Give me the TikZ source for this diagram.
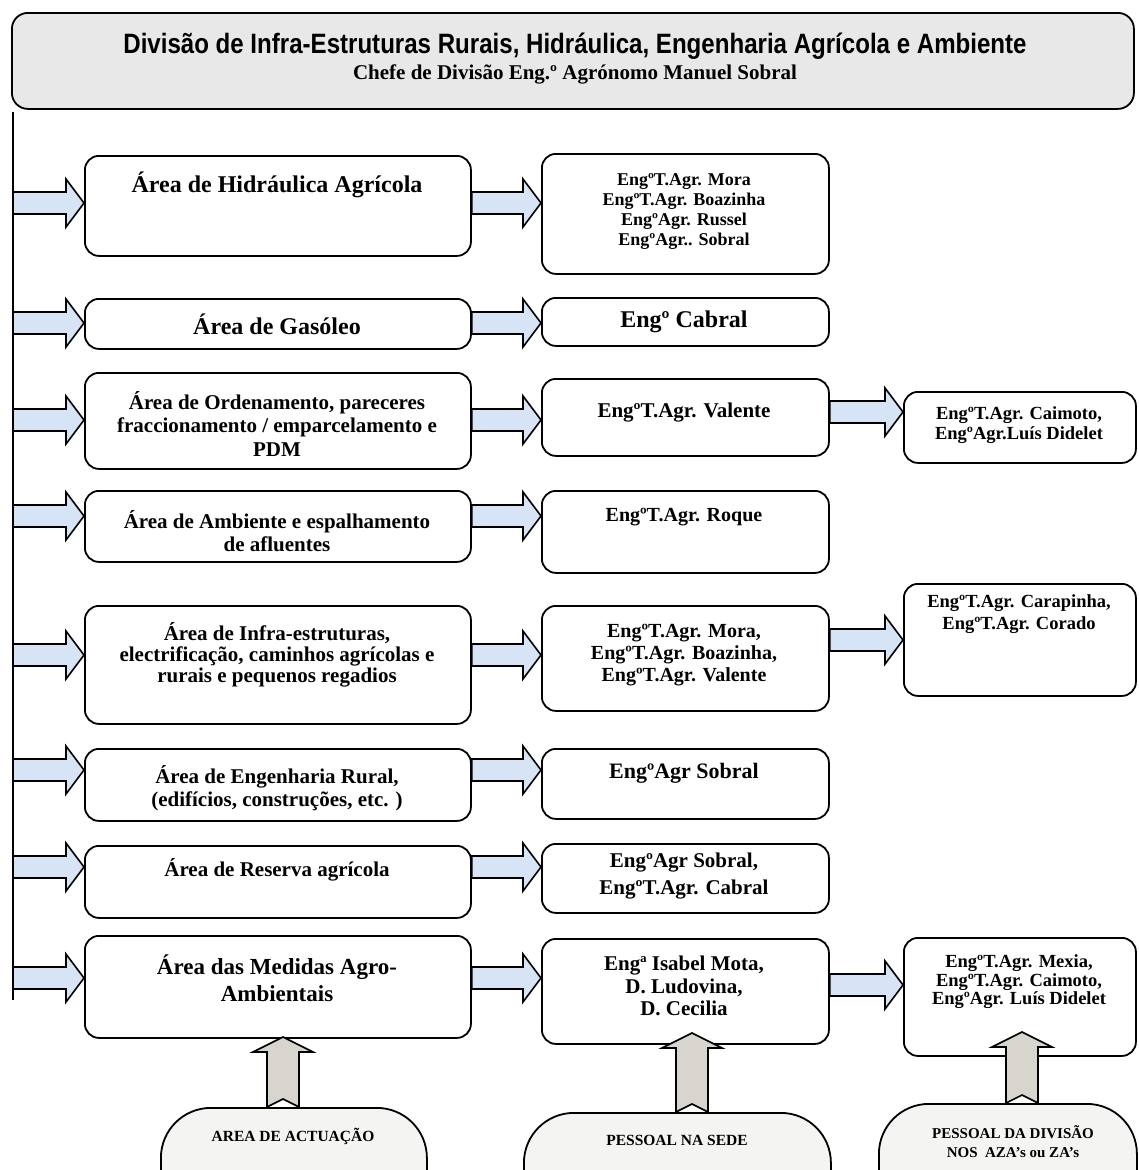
\documentclass[tikz,border=0pt]{standalone}
\usepackage{fontspec}
\setmainfont{Liberation Serif}
\newfontfamily\titlefont[FakeStretch=0.86]{Liberation Sans}
\usetikzlibrary{calc}
\definecolor{arrowblue}{RGB}{214,228,246}
\definecolor{arrowgray}{RGB}{216,213,206}
\definecolor{headgray}{RGB}{232,232,232}
\definecolor{ovalfill}{RGB}{244,244,242}
\tikzset{
  box/.style={draw, line width=1.8pt, rounded corners=14pt, fill=white, inner sep=0pt, anchor=north west},
  txt/.style={align=center, inner sep=0pt},
  blockarrow/.style={draw, line width=1.6pt, line join=miter},
  spineline/.style={line width=2.6pt},
  oval/.style={draw, line width=1.8pt, rounded corners=50pt, fill=ovalfill, inner sep=0pt, anchor=north west},
}
\newcommand\fsz[2]{\bfseries\fontsize{#1}{#2}\selectfont}
\newcommand\harrow[2]{\draw[blockarrow, fill=arrowblue] let \p1=#1, \p2=#2 in
  (\x1,{\y2+11pt}) -- ({\x2-18pt},{\y2+11pt}) -- ({\x2-18pt},{\y2+24pt}) -- (\x2,\y2)
  -- ({\x2-18pt},{\y2-24pt}) -- ({\x2-18pt},{\y2-11pt}) -- (\x1,{\y2-11pt}) -- cycle;}
\newcommand\uarrow[2]{\draw[blockarrow, fill=arrowgray] let \p1=#1, \p2=#2 in
  ({\x1-16pt},\y1) -- ({\x1-16pt},{\y2-15pt}) -- ({\x1-30pt},{\y2-15pt}) -- (\x1,\y2)
  -- ({\x1+30pt},{\y2-15pt}) -- ({\x1+16pt},{\y2-15pt}) -- ({\x1+16pt},\y1) -- (\x1,{\y1+8pt}) -- cycle;}
\begin{document}
\begin{tikzpicture}[x=1pt,y=-1pt]
\clip (0,0) rectangle (1138,1170);
\fill[white] (0,0) rectangle (1138,1170);

% header
\node[box, fill=headgray, rounded corners=16pt, minimum width=1122pt, minimum height=96pt] (head) at (11,12) {};
\node[txt, font={\titlefont\bfseries\fontsize{28}{30}\selectfont}] (title) at (575,46)
  {Divisão de Infra-Estruturas Rurais, Hidráulica, Engenharia Agrícola e Ambiente};
\node[txt, font={\fsz{21}{24}}] (chefe) at (575,74) {Chefe de Divisão Eng.º Agrónomo Manuel Sobral};

% spine
\coordinate (spTop) at (13,112);
\coordinate (spBot) at (13,1000);
\draw[spineline] (spTop) -- (spBot);

% left boxes
\node[box, minimum width=386pt, minimum height=100pt] (L1) at (84,155) {};
\node[box, minimum width=386pt, minimum height=50pt]  (L2) at (84,298) {};
\node[box, minimum width=386pt, minimum height=96pt]  (L3) at (84,372) {};
\node[box, minimum width=386pt, minimum height=71pt]  (L4) at (84,490) {};
\node[box, minimum width=386pt, minimum height=118pt] (L5) at (84,605) {};
\node[box, minimum width=386pt, minimum height=72pt]  (L6) at (84,748) {};
\node[box, minimum width=386pt, minimum height=72pt]  (L7) at (84,845) {};
\node[box, minimum width=386pt, minimum height=102pt] (L8) at (84,935) {};

% middle boxes
\node[box, minimum width=287pt, minimum height=120pt] (M1) at (541,153) {};
\node[box, minimum width=287pt, minimum height=48pt]  (M2) at (541,297) {};
\node[box, minimum width=287pt, minimum height=77pt]  (M3) at (541,378) {};
\node[box, minimum width=287pt, minimum height=82pt]  (M4) at (541,490) {};
\node[box, minimum width=287pt, minimum height=105pt] (M5) at (541,605) {};
\node[box, minimum width=287pt, minimum height=70pt]  (M6) at (541,748) {};
\node[box, minimum width=287pt, minimum height=69pt]  (M7) at (541,843) {};
\node[box, minimum width=287pt, minimum height=105pt] (M8) at (541,938) {};

% right boxes
\node[box, minimum width=232pt, minimum height=71pt]  (R3) at (903,391) {};
\node[box, minimum width=232pt, minimum height=112pt] (R5) at (903,583) {};
\node[box, minimum width=232pt, minimum height=118pt] (R8) at (903,937) {};

% left texts
\node[txt, font={\fsz{24}{27}}] (tL1) at (277,185) {Área de Hidráulica Agrícola};
\node[txt, font={\fsz{24}{27}}] (tL2) at (277,324) {Área de Gasóleo};
\node[txt, font={\fsz{21}{23.5}}] (tL3) at (277,424) {Área de Ordenamento, pareceres\\fraccionamento / emparcelamento e\\PDM};
\node[txt, font={\fsz{21}{23}}] (tL4) at (277,531) {Área de Ambiente e espalhamento\\de afluentes};
\node[txt, font={\fsz{21}{21}}] (tL5) at (277,655) {Área de Infra-estruturas,\\electrificação, caminhos agrícolas e\\rurais e pequenos regadios};
\node[txt, font={\fsz{21}{23}}] (tL6) at (277,788) {Área de Engenharia Rural,\\(edifícios, construções, etc. )};
\node[txt, font={\fsz{21}{23}}] (tL7) at (277,870) {Área de Reserva agrícola};
\node[txt, font={\fsz{23}{27}}] (tL8) at (277,978) {Área das Medidas Agro-\\Ambientais};

% middle texts
\node[txt, font={\fsz{18}{20}}] (tM1) at (684,212) {EngºT.Agr. Mora\\EngºT.Agr. Boazinha\\EngºAgr. Russel\\EngºAgr.. Sobral};
\node[txt, font={\fsz{24}{27}}] (tM2) at (684,322) {Engº Cabral};
\node[txt, font={\fsz{21}{23}}] (tM3) at (684,413) {EngºT.Agr. Valente};
\node[txt, font={\fsz{20}{23}}] (tM4) at (684,517) {EngºT.Agr. Roque};
\node[txt, font={\fsz{20}{22}}] (tM5) at (684,655) {EngºT.Agr. Mora,\\EngºT.Agr. Boazinha,\\EngºT.Agr. Valente};
\node[txt, font={\fsz{22}{25}}] (tM6) at (684,773) {EngºAgr Sobral};
\node[txt, font={\fsz{21}{27}}] (tM7) at (684,876) {EngºAgr Sobral,\\EngºT.Agr. Cabral};
\node[txt, font={\fsz{21}{22.5}}] (tM8) at (684,986) {Engª Isabel Mota,\\D. Ludovina,\\D. Cecilia};

% right texts
\node[txt, font={\fsz{18.5}{20}}] (tR3) at (1019,425) {EngºT.Agr. Caimoto,\\EngºAgr.Luís Didelet};
\node[txt, font={\fsz{18.5}{22}}] (tR5) at (1019,614) {EngºT.Agr. Carapinha,\\EngºT.Agr. Corado};
\node[txt, font={\fsz{18.5}{18.5}}] (tR8) at (1019,982) {EngºT.Agr. Mexia,\\EngºT.Agr. Caimoto,\\EngºAgr. Luís Didelet};

% arrow levels
\coordinate (a1) at (0,203);
\coordinate (a2) at (0,323);
\coordinate (a3) at (0,420);
\coordinate (a4) at (0,516);
\coordinate (a5) at (0,655);
\coordinate (a6) at (0,770);
\coordinate (a7) at (0,867);
\coordinate (a8) at (0,978);
\coordinate (b3) at (0,412);
\coordinate (b5) at (0,640);
\coordinate (b8) at (0,985);

% spine -> left boxes
\harrow{(spTop |- a1)}{(L1.west |- a1)}
\harrow{(spTop |- a2)}{(L2.west |- a2)}
\harrow{(spTop |- a3)}{(L3.west |- a3)}
\harrow{(spTop |- a4)}{(L4.west |- a4)}
\harrow{(spTop |- a5)}{(L5.west |- a5)}
\harrow{(spTop |- a6)}{(L6.west |- a6)}
\harrow{(spTop |- a7)}{(L7.west |- a7)}
\harrow{(spTop |- a8)}{(L8.west |- a8)}

% left -> middle
\harrow{(L1.east |- a1)}{(M1.west |- a1)}
\harrow{(L2.east |- a2)}{(M2.west |- a2)}
\harrow{(L3.east |- a3)}{(M3.west |- a3)}
\harrow{(L4.east |- a4)}{(M4.west |- a4)}
\harrow{(L5.east |- a5)}{(M5.west |- a5)}
\harrow{(L6.east |- a6)}{(M6.west |- a6)}
\harrow{(L7.east |- a7)}{(M7.west |- a7)}
\harrow{(L8.east |- a8)}{(M8.west |- a8)}

% middle -> right
\harrow{(M3.east |- b3)}{(R3.west |- b3)}
\harrow{(M5.east |- b5)}{(R5.west |- b5)}
\harrow{(M8.east |- b8)}{(R8.west |- b8)}

% bottom ovals
\node[oval, minimum width=266pt, minimum height=130pt] (O1) at (160,1107) {};
\node[oval, minimum width=307pt, minimum height=130pt] (O2) at (523,1112) {};
\node[oval, minimum width=258pt, minimum height=130pt] (O3) at (878,1103) {};
\node[txt, font={\fsz{15.5}{18}}] (tO1) at (293,1136) {AREA DE ACTUAÇÃO};
\node[txt, font={\fsz{15.5}{18}}] (tO2) at (677,1140) {PESSOAL NA SEDE};
\node[txt, font={\fsz{15}{19}}] (tO3) at (1013,1142) {PESSOAL DA DIVISÃO\\NOS \ AZA’s ou ZA’s};

% up arrows
\coordinate (u1) at (283,1037);
\coordinate (u2) at (692,1033);
\coordinate (u3) at (1022,1032);
\uarrow{(u1 |- O1.north)}{(u1)}
\uarrow{(u2 |- O2.north)}{(u2)}
\uarrow{(u3 |- O3.north)}{(u3)}
\end{tikzpicture}
\end{document}
